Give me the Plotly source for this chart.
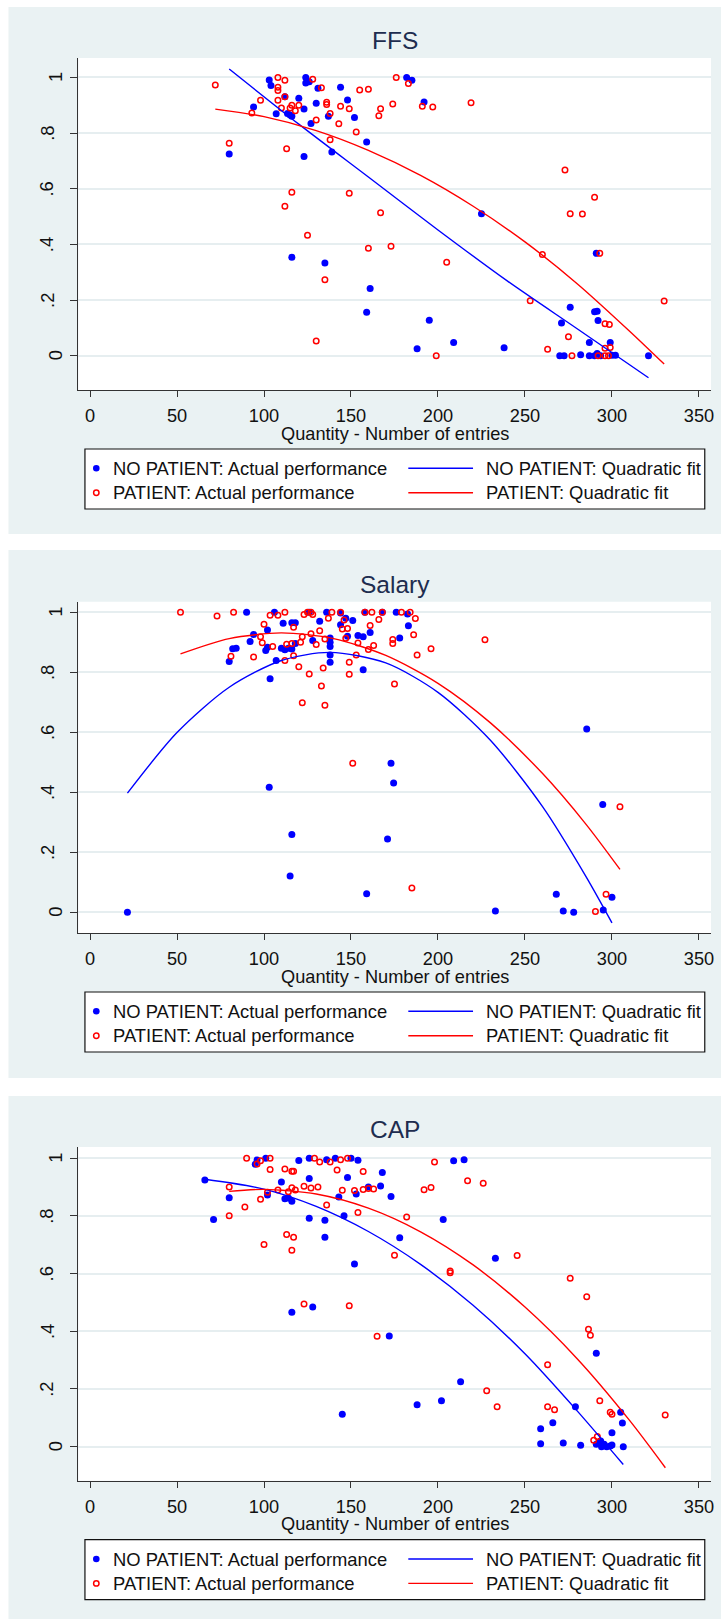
import plotly.graph_objects as go

W, H = 724, 1619
PANEL_BG = "#EAF2F3"
GRID = "#E6EEF0"
BLUE = "#0000FF"
RED = "#FF0000"
FONT = "Liberation Sans, Arial, sans-serif"
TITLE_COLOR = "#1E2D4F"

x_label = "Quantity - Number of entries"
y_tick_vals = [0, 0.2, 0.4, 0.6, 0.8, 1]
y_tick_text = ["0", ".2", ".4", ".6", ".8", "1"]
x_tick_vals = [0, 50, 100, 150, 200, 250, 300, 350]
legend_labels = ["NO PATIENT: Actual performance", "NO PATIENT: Quadratic fit",
                 "PATIENT: Actual performance", "PATIENT: Quadratic fit"]

# ---------------- FFS ----------------
ffs_np_x = [80, 94, 103, 104, 107, 112, 113.5, 115, 116, 116, 120, 123, 123, 124, 124, 126, 127, 130, 131,
            135, 137, 139, 144, 148, 152, 159, 159, 161, 182, 185, 188, 192, 195, 209, 225, 238, 270, 271,
            272.5, 276, 282, 287, 287, 290, 290, 291, 291.5, 291.5, 292, 293.5, 299, 300, 302, 321]
ffs_np_y = [0.725, 0.894, 0.991, 0.971, 0.869, 0.93, 0.87, 0.865, 0.86, 0.354, 0.925, 0.886, 0.716, 1.0, 0.98,
            0.984, 0.834, 0.907, 0.961, 0.333, 0.86, 0.732, 0.965, 0.919, 0.856, 0.768, 0.156, 0.242, 1.0, 0.99,
            0.025, 0.912, 0.128, 0.048, 0.51, 0.029, 0.0, 0.118, 0.0, 0.174, 0.004, 0.048, 0.0, 0.158, 0.0, 0.368,
            0.16, 0.008, 0.127, 0.0, 0.048, 0.002, 0.002, 0.0]
ffs_p_x = [72, 80, 93, 98, 108, 108, 108, 108, 110, 112, 112, 112, 113, 115, 116, 116, 118, 120, 125, 128, 130,
           130, 133, 135, 136, 136, 138, 138, 143, 144, 149, 149, 153, 155, 160, 160, 166, 167, 167, 173, 174,
           176, 183, 191, 197, 199, 205, 219, 253, 260, 263, 273, 275, 276, 277, 283, 290, 292, 293, 296, 296,
           296, 298, 298.5, 299, 330]
ffs_p_y = [0.973, 0.763, 0.872, 0.918, 1.0, 0.965, 0.953, 0.918, 0.89, 0.99, 0.93, 0.537, 0.744, 0.89, 0.90,
           0.587, 0.88, 0.90, 0.433, 0.993, 0.847, 0.053, 0.963, 0.273, 0.911, 0.903, 0.87, 0.776, 0.833, 0.896,
           0.887, 0.584, 0.804, 0.955, 0.957, 0.386, 0.862, 0.887, 0.514, 0.393, 0.904, 1.0, 0.978, 0.896, 0.894,
           0.0, 0.336, 0.909, 0.198, 0.364, 0.023, 0.667, 0.068, 0.51, 0.0, 0.509, 0.569, 0.0, 0.368, 0.115,
           0.027, 0.0, 0.0, 0.112, 0.03, 0.197]
ffs_np_fit_x = [80, 120, 160, 200, 240, 280, 321]
ffs_np_fit_y = [1.03, 0.832, 0.642, 0.452, 0.268, 0.097, -0.079]
ffs_p_fit_x = [72, 100, 130, 160, 190, 220, 250, 280, 310, 330]
ffs_p_fit_y = [0.886, 0.859, 0.809, 0.738, 0.648, 0.538, 0.409, 0.259, 0.089, -0.03]

# ---------------- Salary ----------------
sal_np_x = [21.5, 80, 82, 84, 90, 92, 94, 101, 102, 102, 103, 103.5, 106, 107, 110, 111, 112, 114, 115, 116,
            116, 116, 118, 118, 126, 128, 132, 136, 138, 138, 138, 138, 138, 144, 144, 147, 148, 151, 154, 157,
            157, 158, 159, 161, 168, 171, 173, 174.5, 176, 178, 182.5, 183, 233, 268, 272, 278, 285.5, 294.7,
            295, 300]
sal_np_y = [0.0, 0.836, 0.878, 0.88, 1.0, 0.902, 0.926, 0.872, 0.883, 0.941, 0.417, 0.778, 1.0, 0.839, 0.88,
            0.963, 0.875, 0.88, 0.121, 0.965, 0.877, 0.259, 0.965, 0.896, 1.0, 0.906, 0.97, 1.0, 0.914, 0.9,
            0.886, 0.857, 0.833, 0.997, 0.958, 0.98, 0.92, 0.972, 0.922, 0.918, 0.808, 1.0, 0.062, 0.932, 1.0,
            0.244, 0.497, 0.431, 1.0, 0.914, 0.994, 0.955, 0.004, 0.06, 0.004, 0.0, 0.611, 0.359, 0.008, 0.05]
sal_p_x = [52, 73, 81, 82.5, 94, 98, 99, 100, 103.5, 105, 108, 112, 112, 113, 116, 117, 117, 120, 121, 122,
           122, 123, 125, 126, 127, 127, 128, 130, 132, 133, 134, 135, 135, 137, 139, 144, 145, 146, 147, 148,
           149, 149, 151, 153, 154, 158, 160, 161, 162, 163, 166, 168, 174, 174, 175, 179, 184, 185, 186, 187,
           188, 196, 227, 290.5, 296.6, 304.6]
sal_p_y = [1.0, 0.987, 0.853, 1.0, 0.851, 0.918, 0.898, 0.96, 0.99, 0.886, 0.99, 1.0, 0.839, 0.893, 0.896,
           0.95, 0.855, 0.818, 0.9, 0.918, 0.698, 0.992, 1.0, 0.794, 1.0, 0.928, 0.992, 0.892, 0.938, 0.754,
           0.814, 0.911, 0.69, 0.98, 1.0, 1.0, 0.944, 0.974, 0.913, 0.946, 0.833, 0.793, 0.497, 0.857, 0.897,
           1.0, 0.876, 0.956, 1.0, 0.889, 0.976, 1.0, 0.909, 0.896, 0.761, 1.0, 1.0, 0.081, 0.925, 0.979, 0.857,
           0.878, 0.908, 0.003, 0.06, 0.352]
sal_np_fit_x = [21.5, 50, 80, 110, 138, 170, 200, 230, 260, 285, 300]
sal_np_fit_y = [0.397, 0.599, 0.750, 0.839, 0.866, 0.831, 0.733, 0.574, 0.353, 0.120, -0.035]
sal_p_fit_x = [52, 80, 110, 140, 170, 200, 230, 260, 285, 304.6]
sal_p_fit_y = [0.861, 0.912, 0.931, 0.912, 0.856, 0.763, 0.632, 0.463, 0.294, 0.143]

# ---------------- CAP ----------------
cap_np_x = [66, 71, 80, 95, 96, 101, 102, 110, 112, 114, 116, 116, 120, 126, 126, 126, 128, 135, 135, 136,
            141, 143, 145, 146, 148, 150, 152, 153, 154, 160, 167, 168, 172, 173, 178, 188, 202, 203, 209, 213,
            215, 233, 259, 259, 266, 272, 279, 282, 291, 291, 293, 293.5, 294, 295.5, 297, 299, 300, 300, 305,
            306, 306.5]
cap_np_y = [0.925, 0.788, 0.863, 0.979, 0.994, 1.0, 0.873, 0.918, 0.86, 0.862, 0.851, 0.466, 0.992, 1.0, 0.93,
            0.792, 0.484, 0.785, 0.726, 0.995, 1.0, 0.866, 0.112, 0.801, 0.933, 1.0, 0.633, 0.876, 0.993, 0.9,
            0.904, 0.951, 0.384, 0.867, 0.724, 0.145, 0.159, 0.788, 0.991, 0.225, 0.995, 0.653, 0.062, 0.01,
            0.083, 0.013, 0.138, 0.005, 0.324, 0.008, 0.015, 0.02, 0.0, 0.008, 0.0, 0.002, 0.048, 0.006, 0.119,
            0.082, 0.0]
cap_p_x = [80, 80, 89, 90, 96, 98, 98, 100, 102, 103.5, 103.5, 108, 112, 113, 114, 116, 116, 116, 117, 117,
           118, 123, 123, 127, 129, 131, 132, 136, 138, 142, 144, 145, 148, 149, 152, 154, 157, 157, 160, 163,
           165, 175, 182, 192, 196, 198, 207, 207, 217, 226, 228, 234, 245.5, 263, 263, 267, 276, 285.5, 286.5,
           287.6, 289.5, 291.6, 293, 299, 300, 330.6]
cap_p_y = [0.9, 0.801, 0.831, 1.0, 0.98, 0.991, 0.858, 0.701, 0.882, 1.0, 0.961, 0.89, 0.963, 0.736, 0.884,
           0.955, 0.898, 0.681, 0.955, 0.726, 0.89, 0.903, 0.495, 0.897, 1.0, 0.9, 0.987, 0.838, 0.987, 0.959,
           0.995, 0.889, 1.0, 0.489, 0.888, 0.812, 0.954, 0.892, 0.895, 0.893, 0.383, 0.664, 0.796, 0.891, 0.899,
           0.987, 0.609, 0.603, 0.922, 0.913, 0.194, 0.138, 0.663, 0.284, 0.138, 0.128, 0.584, 0.52, 0.407,
           0.386, 0.022, 0.035, 0.159, 0.119, 0.112, 0.11]
cap_np_fit_x = [66, 100, 130, 160, 190, 220, 250, 280, 306.5]
cap_np_fit_y = [0.927, 0.893, 0.833, 0.746, 0.632, 0.491, 0.322, 0.124, -0.062]
cap_p_fit_x = [80, 100, 130, 160, 190, 220, 250, 280, 310, 330.7]
cap_p_fit_y = [0.885, 0.892, 0.876, 0.827, 0.745, 0.631, 0.484, 0.305, 0.092, -0.073]

panels = [
    dict(title="FFS", np_x=ffs_np_x, np_y=ffs_np_y, p_x=ffs_p_x, p_y=ffs_p_y,
         npf_x=ffs_np_fit_x, npf_y=ffs_np_fit_y, pf_x=ffs_p_fit_x, pf_y=ffs_p_fit_y,
         yrange=[-0.123, 1.07], top=57.9, bottom=390.0, ptop=7.0, pbottom=534.0),
    dict(title="Salary", np_x=sal_np_x, np_y=sal_np_y, p_x=sal_p_x, p_y=sal_p_y,
         npf_x=sal_np_fit_x, npf_y=sal_np_fit_y, pf_x=sal_p_fit_x, pf_y=sal_p_fit_y,
         yrange=[-0.069, 1.035], top=601.7, bottom=933.0, ptop=550.0, pbottom=1078.0),
    dict(title="CAP", np_x=cap_np_x, np_y=cap_np_y, p_x=cap_p_x, p_y=cap_p_y,
         npf_x=cap_np_fit_x, npf_y=cap_np_fit_y, pf_x=cap_p_fit_x, pf_y=cap_p_fit_y,
         yrange=[-0.118, 1.039], top=1147.0, bottom=1480.7, ptop=1096.0, pbottom=1619.0),
]

PLOT_LEFT, PLOT_RIGHT = 78.7, 714.0
XRANGE = [-6.7, 356.95]


def fx(px):
    return px / W


def fy(py):
    return 1 - py / H


fig = go.Figure()
shapes = []
annotations = []
layout_axes = {}

for i, p in enumerate(panels):
    n = i + 1
    xa = "x" if n == 1 else f"x{n}"
    ya = "y" if n == 1 else f"y{n}"
    xkey = "xaxis" if n == 1 else f"xaxis{n}"
    ykey = "yaxis" if n == 1 else f"yaxis{n}"

    fig.add_trace(go.Scatter(x=p["np_x"], y=p["np_y"], mode="markers", name=legend_labels[0],
                             marker=dict(color=BLUE, size=7, line=dict(width=0)),
                             xaxis=xa, yaxis=ya, showlegend=False))
    fig.add_trace(go.Scatter(x=p["p_x"], y=p["p_y"], mode="markers", name=legend_labels[2],
                             marker=dict(symbol="circle-open", color=RED, size=5.5, line=dict(width=1.5, color=RED)),
                             xaxis=xa, yaxis=ya, showlegend=False))
    fig.add_trace(go.Scatter(x=p["npf_x"], y=p["npf_y"], mode="lines", name=legend_labels[1],
                             line=dict(color=BLUE, width=1.4, shape="spline", smoothing=0.8),
                             xaxis=xa, yaxis=ya, showlegend=False))
    fig.add_trace(go.Scatter(x=p["pf_x"], y=p["pf_y"], mode="lines", name=legend_labels[3],
                             line=dict(color=RED, width=1.4, shape="spline", smoothing=0.8),
                             xaxis=xa, yaxis=ya, showlegend=False))

    layout_axes[xkey] = dict(domain=[fx(PLOT_LEFT), fx(PLOT_RIGHT)], range=XRANGE, anchor=ya,
                             tickmode="array", tickvals=x_tick_vals, ticks="outside", ticklen=6,
                             tickcolor="#333333", tickwidth=1, showline=True, linecolor="#333333",
                             linewidth=1, showgrid=False, zeroline=False, ticklabelstandoff=3,
                             tickfont=dict(family=FONT, size=18.2, color="#111111"))
    layout_axes[ykey] = dict(domain=[fy(p["bottom"]), fy(p["top"])], range=p["yrange"], anchor=xa,
                             tickmode="array", tickvals=y_tick_vals, ticks="outside", ticklen=7,
                             tickcolor="#333333", tickwidth=1, showline=True, linecolor="#333333",
                             linewidth=1, showgrid=True, gridcolor=GRID, gridwidth=1.5,
                             zeroline=False, showticklabels=False)

    # panel background and white plot region
    shapes.append(dict(type="rect", xref="paper", yref="paper", x0=fx(8.5), x1=fx(W),
                       y0=fy(p["pbottom"]), y1=fy(p["ptop"]), fillcolor=PANEL_BG,
                       line=dict(width=0), layer="below"))
    shapes.append(dict(type="rect", xref=f"{xa} domain", yref=f"{ya} domain", x0=0, x1=1, y0=0, y1=1,
                       fillcolor="white", line=dict(width=0), layer="below"))

    # title
    annotations.append(dict(text=p["title"], xref="paper", yref="paper",
                            x=fx((PLOT_LEFT + PLOT_RIGHT) / 2), y=fy(p["top"] - 17.5),
                            xanchor="center", yanchor="middle", showarrow=False,
                            font=dict(family=FONT, size=24.5, color=TITLE_COLOR)))
    # y tick labels (rotated, Stata style)
    for v, t in zip(y_tick_vals, y_tick_text):
        cx = 55.8 if t in ("0", "1") else 47.0
        annotations.append(dict(text=t, xref="paper", yref=ya, x=fx(cx), y=v, textangle=-90,
                                xanchor="center", yanchor="middle", showarrow=False,
                                font=dict(family=FONT, size=18.4, color="#111111")))
    # x axis title
    B = p["bottom"]
    annotations.append(dict(text=x_label, xref="paper", yref="paper",
                            x=fx((PLOT_LEFT + PLOT_RIGHT) / 2), y=fy(B + 43.5),
                            xanchor="center", yanchor="middle", showarrow=False,
                            font=dict(family=FONT, size=18.2, color="#111111")))

    # legend box
    shapes.append(dict(type="rect", xref="paper", yref="paper", x0=fx(85.3), x1=fx(707.7),
                       y0=fy(B + 119), y1=fy(B + 59), fillcolor="white",
                       line=dict(color="#111111", width=1.2), layer="above"))
    r1, r2 = B + 78.3, B + 102.7
    shapes.append(dict(type="circle", xref="paper", yref="paper", xsizemode="pixel", ysizemode="pixel",
                       xanchor=fx(96.7), yanchor=fy(r1), x0=-3.3, x1=3.3, y0=-3.3, y1=3.3,
                       fillcolor=BLUE, line=dict(width=0), layer="above"))
    shapes.append(dict(type="circle", xref="paper", yref="paper", xsizemode="pixel", ysizemode="pixel",
                       xanchor=fx(96.7), yanchor=fy(r2), x0=-2.7, x1=2.7, y0=-2.7, y1=2.7,
                       fillcolor="white", line=dict(color=RED, width=1.5), layer="above"))
    shapes.append(dict(type="line", xref="paper", yref="paper", x0=fx(410), x1=fx(475),
                       y0=fy(r1), y1=fy(r1), line=dict(color=BLUE, width=1.4), layer="above"))
    shapes.append(dict(type="line", xref="paper", yref="paper", x0=fx(410), x1=fx(475),
                       y0=fy(r2), y1=fy(r2), line=dict(color=RED, width=1.4), layer="above"))
    for (tx, ty, label) in [(111.7, r1, legend_labels[0]), (485.7, r1, legend_labels[1]),
                            (111.7, r2, legend_labels[2]), (485.7, r2, legend_labels[3])]:
        annotations.append(dict(text=label, xref="paper", yref="paper", x=fx(tx), y=fy(ty),
                                xanchor="left", yanchor="middle", showarrow=False,
                                font=dict(family=FONT, size=18.4, color="#111111")))

fig.update_layout(
    width=W, height=H,
    margin=dict(l=0, r=0, t=0, b=0, pad=0),
    paper_bgcolor="white", plot_bgcolor="white",
    showlegend=False,
    shapes=shapes, annotations=annotations,
    font=dict(family=FONT, size=18.4, color="#111111"),
    **layout_axes,
)

fig.write_html("out.html")
